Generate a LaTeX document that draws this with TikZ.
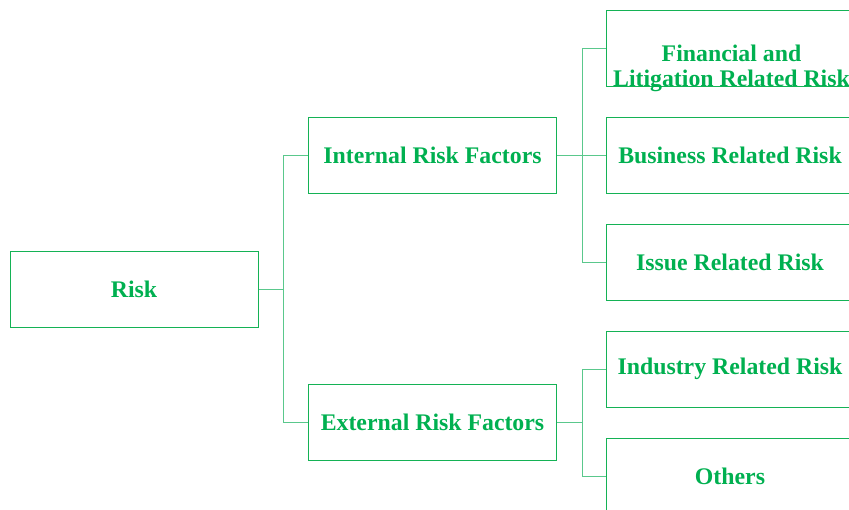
\documentclass[tikz,border=0pt]{standalone}
\usepackage{fontspec}
\setmainfont{Liberation Serif}
\definecolor{txtgreen}{RGB}{0,176,80}
\definecolor{boxgreen}{RGB}{20,178,85}
\definecolor{linegreen}{RGB}{90,200,140}
\begin{document}
\begin{tikzpicture}[x=1pt,y=-1pt,
  riskbox/.style={draw=boxgreen,line width=1pt,minimum width=248pt,minimum height=76pt,inner sep=0pt,
    text=txtgreen,font=\fontsize{23.8}{25}\selectfont\bfseries},
  conn/.style={draw=linegreen,line width=1pt}]
\useasboundingbox (0,0) rectangle (849,509);
\clip (0,0) rectangle (849,509);
\node[riskbox] (risk) at (134,289) {Risk};
\node[riskbox] (int) at (432.5,155) {Internal Risk Factors};
\node[riskbox] (ext) at (432.5,422) {External Risk Factors};
\node[riskbox] (fin) at (730,48) {};
\node[text=txtgreen,font=\fontsize{23.8}{25}\selectfont\bfseries,align=center,inner sep=0pt] (fint) at (731.5,68) {Financial and\\Litigation Related Risk};
\node[riskbox] (bus) at (730,155) {Business Related Risk};
\node[riskbox] (iss) at (730,262) {Issue Related Risk};
\node[riskbox] (ind) at (730,369) {Industry Related Risk};
\node[riskbox] (oth) at (730,476) {Others};
\draw[conn] (risk.east) -- ++(25,0) coordinate (j1);
\draw[conn] (j1) |- (int.west);
\draw[conn] (j1) |- (ext.west);
\draw[conn] (int.east) -- ++(25,0) coordinate (j2);
\draw[conn] (j2) |- (fin.west);
\draw[conn] (j2) |- (bus.west);
\draw[conn] (j2) |- (iss.west);
\draw[conn] (ext.east) -- ++(25,0) coordinate (j3);
\draw[conn] (j3) |- (ind.west);
\draw[conn] (j3) |- (oth.west);
\end{tikzpicture}
\end{document}
